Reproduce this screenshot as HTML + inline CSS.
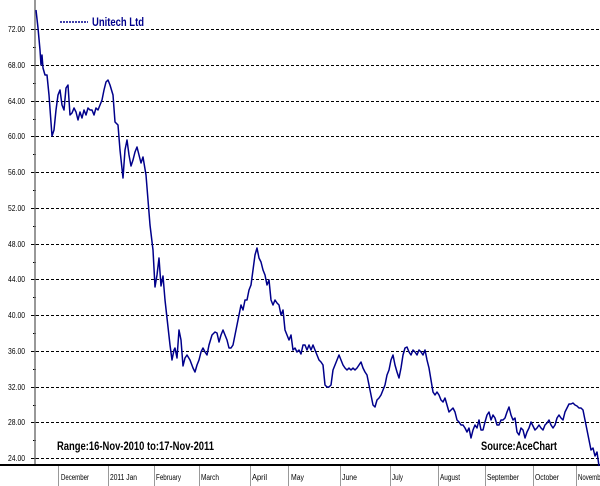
<!DOCTYPE html>
<html><head><meta charset="utf-8"><style>
html,body{margin:0;padding:0;background:#fff;}
svg{display:block;font-family:"Liberation Sans",Arial,sans-serif;}
</style></head><body>
<svg width="600" height="486" viewBox="0 0 600 486">
<rect width="600" height="486" fill="#fff"/>
<g stroke="#000" stroke-width="1" stroke-dasharray="3,2">
<line x1="36" y1="29.5" x2="600" y2="29.5"/>
<line x1="36" y1="65.5" x2="600" y2="65.5"/>
<line x1="36" y1="101.5" x2="600" y2="101.5"/>
<line x1="36" y1="136.5" x2="600" y2="136.5"/>
<line x1="36" y1="172.5" x2="600" y2="172.5"/>
<line x1="36" y1="208.5" x2="600" y2="208.5"/>
<line x1="36" y1="244.5" x2="600" y2="244.5"/>
<line x1="36" y1="279.5" x2="600" y2="279.5"/>
<line x1="36" y1="315.5" x2="600" y2="315.5"/>
<line x1="36" y1="351.5" x2="600" y2="351.5"/>
<line x1="36" y1="387.5" x2="600" y2="387.5"/>
<line x1="36" y1="422.5" x2="600" y2="422.5"/>
<line x1="36" y1="458.5" x2="600" y2="458.5"/>
</g>
<g stroke="#000" stroke-width="1">
<line x1="31" y1="29.5" x2="36" y2="29.5"/><line x1="31" y1="65.5" x2="36" y2="65.5"/><line x1="31" y1="101.5" x2="36" y2="101.5"/><line x1="31" y1="136.5" x2="36" y2="136.5"/><line x1="31" y1="172.5" x2="36" y2="172.5"/><line x1="31" y1="208.5" x2="36" y2="208.5"/><line x1="31" y1="244.5" x2="36" y2="244.5"/><line x1="31" y1="279.5" x2="36" y2="279.5"/><line x1="31" y1="315.5" x2="36" y2="315.5"/><line x1="31" y1="351.5" x2="36" y2="351.5"/><line x1="31" y1="387.5" x2="36" y2="387.5"/><line x1="31" y1="422.5" x2="36" y2="422.5"/><line x1="31" y1="458.5" x2="36" y2="458.5"/>
<line x1="33" y1="47.5" x2="36" y2="47.5"/><line x1="33" y1="83.5" x2="36" y2="83.5"/><line x1="33" y1="119.5" x2="36" y2="119.5"/><line x1="33" y1="154.5" x2="36" y2="154.5"/><line x1="33" y1="190.5" x2="36" y2="190.5"/><line x1="33" y1="226.5" x2="36" y2="226.5"/><line x1="33" y1="262.5" x2="36" y2="262.5"/><line x1="33" y1="297.5" x2="36" y2="297.5"/><line x1="33" y1="333.5" x2="36" y2="333.5"/><line x1="33" y1="369.5" x2="36" y2="369.5"/><line x1="33" y1="405.5" x2="36" y2="405.5"/><line x1="33" y1="440.5" x2="36" y2="440.5"/>
</g>
<line x1="35" y1="0" x2="35" y2="466" stroke="#777" stroke-width="1.5"/>
<line x1="0" y1="465" x2="600" y2="465" stroke="#000" stroke-width="2"/>
<g stroke="#999" stroke-width="1">
<line x1="58.5" y1="466" x2="58.5" y2="486"/><line x1="108.5" y1="466" x2="108.5" y2="486"/><line x1="154.5" y1="466" x2="154.5" y2="486"/><line x1="199.5" y1="466" x2="199.5" y2="486"/><line x1="250.5" y1="466" x2="250.5" y2="486"/><line x1="288.5" y1="466" x2="288.5" y2="486"/><line x1="340.5" y1="466" x2="340.5" y2="486"/><line x1="390.5" y1="466" x2="390.5" y2="486"/><line x1="438.5" y1="466" x2="438.5" y2="486"/><line x1="485.5" y1="466" x2="485.5" y2="486"/><line x1="533.5" y1="466" x2="533.5" y2="486"/><line x1="576.5" y1="466" x2="576.5" y2="486"/>
</g>
<g font-size="8" fill="#000" lengthAdjust="spacingAndGlyphs">
<text x="8" y="32" textLength="17" lengthAdjust="spacingAndGlyphs">72.00</text><text x="8" y="68" textLength="17" lengthAdjust="spacingAndGlyphs">68.00</text><text x="8" y="104" textLength="17" lengthAdjust="spacingAndGlyphs">64.00</text><text x="8" y="139" textLength="17" lengthAdjust="spacingAndGlyphs">60.00</text><text x="8" y="175" textLength="17" lengthAdjust="spacingAndGlyphs">56.00</text><text x="8" y="211" textLength="17" lengthAdjust="spacingAndGlyphs">52.00</text><text x="8" y="247" textLength="17" lengthAdjust="spacingAndGlyphs">48.00</text><text x="8" y="282" textLength="17" lengthAdjust="spacingAndGlyphs">44.00</text><text x="8" y="318" textLength="17" lengthAdjust="spacingAndGlyphs">40.00</text><text x="8" y="354" textLength="17" lengthAdjust="spacingAndGlyphs">36.00</text><text x="8" y="390" textLength="17" lengthAdjust="spacingAndGlyphs">32.00</text><text x="8" y="425" textLength="17" lengthAdjust="spacingAndGlyphs">28.00</text><text x="8" y="461" textLength="17" lengthAdjust="spacingAndGlyphs">24.00</text>
<text x="61" y="480" textLength="28" lengthAdjust="spacingAndGlyphs">December</text><text x="110" y="480" textLength="27" lengthAdjust="spacingAndGlyphs">2011 Jan</text><text x="156" y="480" textLength="25" lengthAdjust="spacingAndGlyphs">February</text><text x="201" y="480" textLength="18" lengthAdjust="spacingAndGlyphs">March</text><text x="252" y="480" textLength="15" lengthAdjust="spacingAndGlyphs">April</text><text x="291" y="480" textLength="13" lengthAdjust="spacingAndGlyphs">May</text><text x="342" y="480" textLength="15" lengthAdjust="spacingAndGlyphs">June</text><text x="392" y="480" textLength="11" lengthAdjust="spacingAndGlyphs">July</text><text x="440" y="480" textLength="20" lengthAdjust="spacingAndGlyphs">August</text><text x="487" y="480" textLength="32" lengthAdjust="spacingAndGlyphs">September</text><text x="535" y="480" textLength="24" lengthAdjust="spacingAndGlyphs">October</text><text x="578" y="480" textLength="28" lengthAdjust="spacingAndGlyphs">November</text>
</g>
<line x1="60" y1="22" x2="88" y2="22" stroke="#00008b" stroke-width="1.5" stroke-dasharray="2,1"/>
<text x="92" y="26" font-size="12" font-weight="bold" fill="#00008b" textLength="52" lengthAdjust="spacingAndGlyphs">Unitech Ltd</text>
<text x="57" y="450" font-size="12" font-weight="bold" fill="#000" textLength="157" lengthAdjust="spacingAndGlyphs">Range:16-Nov-2010 to:17-Nov-2011</text>
<text x="481" y="450" font-size="12" font-weight="bold" fill="#000" textLength="76" lengthAdjust="spacingAndGlyphs">Source:AceChart</text>
<polyline fill="none" stroke="#00008b" stroke-width="1.5" stroke-linejoin="round" points="36,10 38,28 40,50 41,65 42,55 43,68 45,75 47,75 49,95 52,136 54,130 56,110 58,95 60,90 62,105 64,110 66,88 68,85 70,115 72,113 74,108 76,112 78,120 80,112 82,118 84,110 86,115 88,108 90,110 92,110 94,115 96,108 98,110 100,105 102,100 104,90 106,82 108,80 110,85 113,95 115,122 118,125 120,150 123,178 125,150 127,140 129,155 131,166 133,160 135,152 137,147 139,155 141,163 143,157 146,175 148,200 150,225 153,250 155,287 157,275 159,258 161,286 163,276 165,300 167,318 170,345 172,360 174,350 175,348 177,358 179,330 181,340 183,366 185,358 187,355 190,360 193,368 195,372 197,365 199,360 201,352 203,348 205,352 207,355 209,345 212,335 215,332 217,333 219,342 221,335 223,330 225,335 227,340 229,348 231,348 233,345 235,335 237,325 239,315 241,305 243,310 245,300 247,300 249,290 251,285 253,270 255,255 257,248 259,258 261,262 263,270 265,275 267,285 269,280 271,300 273,305 275,300 277,303 279,305 281,315 283,310 285,330 287,335 289,340 291,335 293,350 295,348 297,352 299,350 301,354 303,345 305,345 307,350 309,345 311,350 313,345 315,350 317,355 319,360 321,362 323,365 325,385 327,387 329,387 331,385 333,370 335,365 337,360 339,355 341,360 343,365 345,368 347,370 349,368 351,370 353,368 355,370 357,368 359,365 361,362 363,368 365,372 367,375 369,385 371,395 373,405 375,407 377,400 379,398 381,395 383,390 385,385 387,375 389,370 391,360 393,355 395,365 397,372 399,378 401,368 403,355 405,348 407,347 409,352 411,355 413,350 415,352 417,355 419,350 421,352 423,355 425,350 427,360 429,368 431,380 433,392 435,395 437,392 439,395 441,400 443,402 445,398 447,405 449,412 451,410 453,408 455,412 457,420 459,422 461,425 463,425 465,428 467,432 469,428 471,438 473,430 475,425 477,428 479,420 481,430 483,430 485,422 487,415 489,412 491,420 493,415 495,418 497,425 499,425 501,420 503,420 505,418 507,412 509,407 511,415 513,420 515,418 517,432 519,435 521,428 523,430 525,438 527,432 529,428 531,422 533,426 535,430 537,428 539,425 541,428 543,430 545,425 547,423 549,420 551,425 553,428 555,425 557,418 559,415 561,418 563,420 565,412 567,408 569,404 571,404 573,403 575,405 577,406 579,408 581,408 583,410 585,420 587,430 589,440 591,450 593,448 595,456 597,452 599,466"/>
</svg>
</body></html>
